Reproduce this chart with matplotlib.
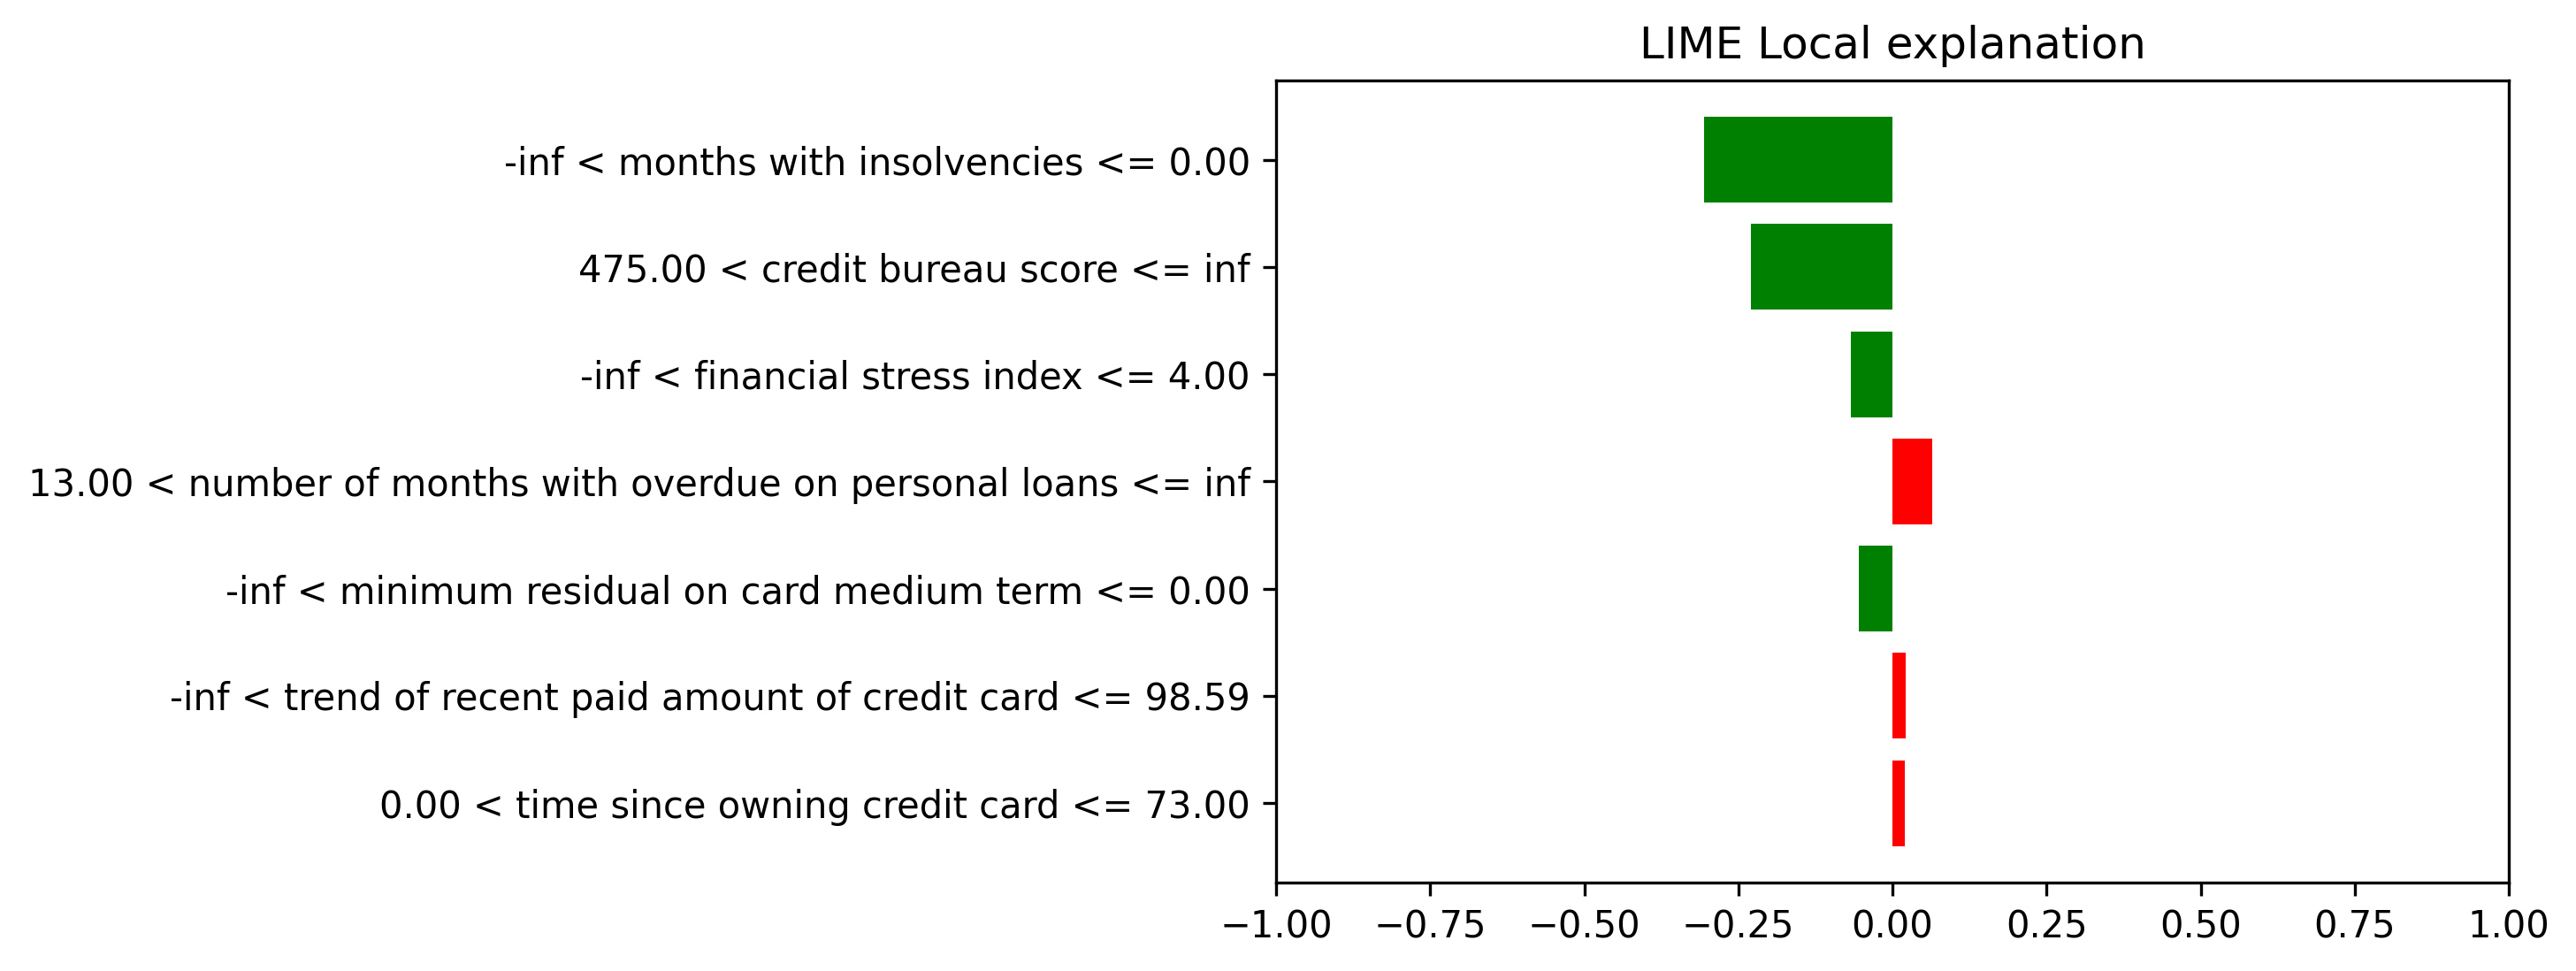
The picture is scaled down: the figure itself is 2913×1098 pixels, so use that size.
import matplotlib
matplotlib.use('Agg')
import matplotlib.pyplot as plt
import numpy as np

# features, top to bottom as shown
features = ['-inf < months with insolvencies <= 0.00',
            '475.00 < credit bureau score <= inf',
            '-inf < financial stress index <= 4.00',
            '13.00 < number of months with overdue on personal loans <= inf',
            '-inf < minimum residual on card medium term <= 0.00',
            '-inf < trend of recent paid amount of credit card <= 98.59',
            '0.00 < time since owning credit card <= 73.00']
weights = [-0.306, -0.230, -0.067, 0.065, -0.055, 0.0215, 0.020]

# lime draws the list reversed, first feature on top
names = features[::-1]
vals = weights[::-1]
colors = ['green' if v < 0 else 'red' for v in vals]
pos = np.arange(len(vals))

fig = plt.figure(figsize=(2913 / 300, 1098 / 300), dpi=300)
ax = fig.add_axes([0.4954, 0.0911, 0.4785, 0.826])
ax.barh(pos, vals, align='center', color=colors)
ax.set_yticks(pos)
ax.set_yticklabels(names)
ax.set_xlim(-1, 1)
ax.set_xticks(np.linspace(-1, 1, 9))
ax.set_title('LIME Local explanation')

fig.savefig('out.png', dpi=300)
